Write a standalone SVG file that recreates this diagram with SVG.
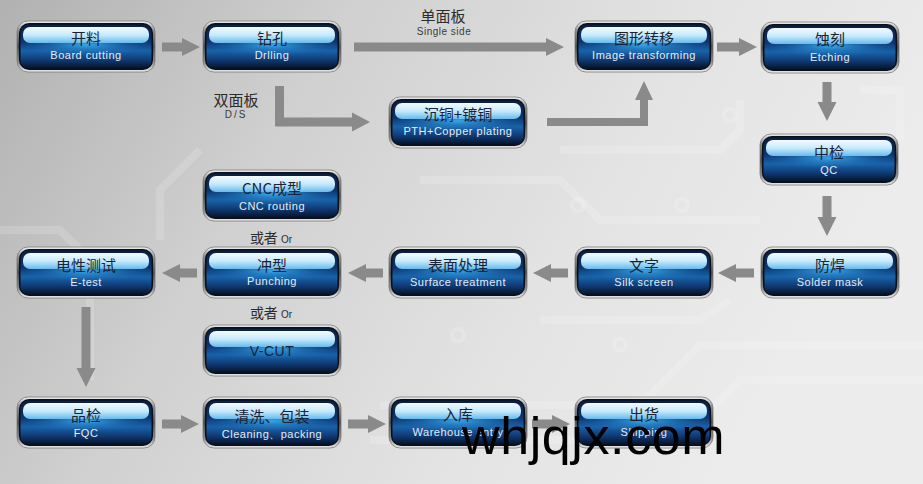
<svg xmlns="http://www.w3.org/2000/svg" width="923" height="484" viewBox="0 0 923 484">
<defs>
<linearGradient id="bg" x1="0" y1="0" x2="1" y2="0.3">
<stop offset="0" stop-color="#b1b1b1"/>
<stop offset="0.35" stop-color="#d0d0d0"/>
<stop offset="0.7" stop-color="#e3e3e3"/>
<stop offset="1" stop-color="#ececec"/>
</linearGradient>
<linearGradient id="silver" x1="0" y1="0" x2="0" y2="1">
<stop offset="0" stop-color="#f2f2f2"/>
<stop offset="0.2" stop-color="#8c8c8c"/>
<stop offset="0.5" stop-color="#4a4a4a"/>
<stop offset="0.8" stop-color="#8a8a8a"/>
<stop offset="1" stop-color="#eeeeee"/>
</linearGradient>
<linearGradient id="body" x1="0" y1="0" x2="0" y2="1">
<stop offset="0" stop-color="#0a1d40"/>
<stop offset="0.4" stop-color="#0f3670"/>
<stop offset="0.6" stop-color="#1863aa"/>
<stop offset="0.8" stop-color="#103b76"/>
<stop offset="1" stop-color="#05122a"/>
</linearGradient>
<radialGradient id="glow" cx="0.5" cy="0.62" r="0.5" fx="0.5" fy="0.62" gradientTransform="translate(0,0.31) scale(1,0.5) translate(0,-0.31)">
<stop offset="0" stop-color="#3cb2f7" stop-opacity="0.9"/>
<stop offset="1" stop-color="#1a6ab0" stop-opacity="0"/>
</radialGradient>
<linearGradient id="band" x1="0" y1="0" x2="0" y2="1">
<stop offset="0" stop-color="#f4fbff"/>
<stop offset="0.5" stop-color="#c8eafc"/>
<stop offset="1" stop-color="#66bbec"/>
</linearGradient>
<style>
.frame{fill:url(#silver);stroke:#7a7a7a;stroke-width:0.8}
.rim{fill:#0a0f1a}
.body{fill:url(#body)}
.glow{fill:url(#glow)}
.band{fill:url(#band)}
.t{font-family:"Noto Sans CJK SC","Liberation Sans",sans-serif;font-size:15px;fill:#1a2335;text-anchor:middle}
.s{font-family:"Liberation Sans","DejaVu Sans",sans-serif;font-size:11px;fill:#e4ecf4;text-anchor:middle;letter-spacing:0.5px}
.arr{fill:#8a8a8a}
.lab{font-family:"Noto Sans CJK SC","Liberation Sans",sans-serif;font-size:14px;fill:#2c2c2c;text-anchor:middle}
.labs{font-family:"Liberation Sans","DejaVu Sans",sans-serif;font-size:10px;fill:#3a3a3a;text-anchor:middle;letter-spacing:0.5px}
.trace{fill:none;stroke:#ffffff;stroke-opacity:0.16;stroke-width:8;stroke-linejoin:round}
.pad{fill:none;stroke:#ffffff;stroke-opacity:0.16;stroke-width:4}
</style>
</defs>

<rect width="923" height="484" fill="url(#bg)"/>
<g id="background-traces">
<polyline class="trace" points="0,230 60,230 90,260 90,380"/>
<polyline class="trace" points="380,405 640,405 700,345 923,345"/>
<polyline class="trace" points="370,440 680,440 740,380 923,380"/>
<polyline class="trace" points="560,150 720,150 740,130 740,100"/>
<polyline class="trace" points="420,180 560,180 600,220 760,220"/>
<polyline class="trace" points="540,320 700,320 730,300"/>
<polyline class="trace" points="860,90 900,90 900,140"/>
<polyline class="trace" points="200,150 160,190 160,240"/>
<circle class="pad" cx="578" cy="205" r="6"/>
<circle class="pad" cx="682" cy="205" r="6"/>
<circle class="pad" cx="458" cy="335" r="6"/>
<circle class="pad" cx="730" cy="115" r="6"/>
<circle class="pad" cx="620" cy="345" r="6"/>
</g>

<g id="connectors">
<polygon class="arr" points="162,42.5 182,42.5 182,38 200,47 182,56 182,51.5 162,51.5"/>
<polygon class="arr" points="354,42.5 546,42.5 546,38 564,47 546,56 546,51.5 354,51.5"/>
<polygon class="arr" points="717,42.5 739,42.5 739,38 757,47 739,56 739,51.5 717,51.5"/>
<polygon class="arr" points="275,86 284,86 284,117.5 352,117.5 352,112.5 370,122 352,131.5 352,126.5 275,126.5"/>
<polygon class="arr" points="547,118 640,118 640,100 635,100 644,81 653,100 648,100 648,126 547,126"/>
<polygon class="arr" points="822.5,82 831.5,82 831.5,102 836.5,102 827,121 817.5,102 822.5,102"/>
<polygon class="arr" points="822.5,196 831.5,196 831.5,217 836.5,217 827,236 817.5,217 822.5,217"/>
<polygon class="arr" points="754,268.5 736,268.5 736,264 718,273 736,282 736,277.5 754,277.5"/>
<polygon class="arr" points="568,268.5 551,268.5 551,264 533,273 551,282 551,277.5 568,277.5"/>
<polygon class="arr" points="383,268.5 366,268.5 366,264 348,273 366,282 366,277.5 383,277.5"/>
<polygon class="arr" points="197,268.5 180,268.5 180,264 162,273 180,282 180,277.5 197,277.5"/>
<polygon class="arr" points="81.5,307 90.5,307 90.5,368 95.5,368 86,387 76.5,368 81.5,368"/>
<polygon class="arr" points="162,419.5 181,419.5 181,415 199,424 181,433 181,428.5 162,428.5"/>
<polygon class="arr" points="348,419.5 368,419.5 368,415 386,424 368,433 368,428.5 348,428.5"/>
<polygon class="arr" points="532,419.5 552,419.5 552,415 570,424 552,433 552,428.5 532,428.5"/>
</g>

<g id="labels">
<text class="lab" x="443" y="22" style="font-size:15px">单面板</text>
<text class="labs" x="444" y="35">Single side</text>
<text class="lab" x="236" y="106" style="font-size:15px">双面板</text>
<text class="labs" x="236" y="118" style="letter-spacing:2px">D/S</text>
<text class="lab" x="271" y="243">或者 <tspan style="font-size:10px;font-family:'Liberation Sans',sans-serif">Or</tspan></text>
<text class="lab" x="271" y="318">或者 <tspan style="font-size:10px;font-family:'Liberation Sans',sans-serif">Or</tspan></text>
</g>

<g id="n-kailiao" transform="translate(17,21)">
<rect class="frame" width="138" height="51" rx="11"/><rect class="rim" x="2" y="2" width="134" height="47" rx="10"/><rect class="body" x="3.5" y="3.5" width="131" height="44" rx="8"/><rect class="glow" x="3.5" y="3.5" width="131" height="44" rx="8"/><rect class="band" x="6" y="6" width="126" height="16" rx="7"/>
<text class="t" x="69" y="23">开料</text><text class="s" x="69" y="38">Board cutting</text>
</g>
<g id="n-zuankong" transform="translate(203,21)">
<rect class="frame" width="138" height="51" rx="11"/><rect class="rim" x="2" y="2" width="134" height="47" rx="10"/><rect class="body" x="3.5" y="3.5" width="131" height="44" rx="8"/><rect class="glow" x="3.5" y="3.5" width="131" height="44" rx="8"/><rect class="band" x="6" y="6" width="126" height="16" rx="7"/>
<text class="t" x="69" y="23">钻孔</text><text class="s" x="69" y="38">Drlling</text>
</g>
<g id="n-tuxing" transform="translate(575,21)">
<rect class="frame" width="138" height="51" rx="11"/><rect class="rim" x="2" y="2" width="134" height="47" rx="10"/><rect class="body" x="3.5" y="3.5" width="131" height="44" rx="8"/><rect class="glow" x="3.5" y="3.5" width="131" height="44" rx="8"/><rect class="band" x="6" y="6" width="126" height="16" rx="7"/>
<text class="t" x="69" y="23">图形转移</text><text class="s" x="69" y="38">Image transforming</text>
</g>
<g id="n-shike" transform="translate(761,22)">
<rect class="frame" width="138" height="51" rx="11"/><rect class="rim" x="2" y="2" width="134" height="47" rx="10"/><rect class="body" x="3.5" y="3.5" width="131" height="44" rx="8"/><rect class="glow" x="3.5" y="3.5" width="131" height="44" rx="8"/><rect class="band" x="6" y="6" width="126" height="16" rx="7"/>
<text class="t" x="69" y="23">蚀刻</text><text class="s" x="69" y="39">Etching</text>
</g>
<g id="n-chentong" transform="translate(389,97)">
<rect class="frame" width="138" height="51" rx="11"/><rect class="rim" x="2" y="2" width="134" height="47" rx="10"/><rect class="body" x="3.5" y="3.5" width="131" height="44" rx="8"/><rect class="glow" x="3.5" y="3.5" width="131" height="44" rx="8"/><rect class="band" x="6" y="6" width="126" height="16" rx="7"/>
<text class="t" x="69" y="23">沉铜+镀铜</text><text class="s" x="69" y="38">PTH+Copper plating</text>
</g>
<g id="n-zhongjian" transform="translate(760,134)">
<rect class="frame" width="138" height="51" rx="11"/><rect class="rim" x="2" y="2" width="134" height="47" rx="10"/><rect class="body" x="3.5" y="3.5" width="131" height="44" rx="8"/><rect class="glow" x="3.5" y="3.5" width="131" height="44" rx="8"/><rect class="band" x="6" y="6" width="126" height="16" rx="7"/>
<text class="t" x="69" y="24">中检</text><text class="s" x="69" y="40">QC</text>
</g>
<g id="n-cnc" transform="translate(203,170)">
<rect class="frame" width="138" height="51" rx="11"/><rect class="rim" x="2" y="2" width="134" height="47" rx="10"/><rect class="body" x="3.5" y="3.5" width="131" height="44" rx="8"/><rect class="glow" x="3.5" y="3.5" width="131" height="44" rx="8"/><rect class="band" x="6" y="6" width="126" height="16" rx="7"/>
<text class="t" x="69" y="24">CNC成型</text><text class="s" x="69" y="40">CNC routing</text>
</g>
<g id="n-dianxing" transform="translate(17,247)">
<rect class="frame" width="138" height="51" rx="11"/><rect class="rim" x="2" y="2" width="134" height="47" rx="10"/><rect class="body" x="3.5" y="3.5" width="131" height="44" rx="8"/><rect class="glow" x="3.5" y="3.5" width="131" height="44" rx="8"/><rect class="band" x="6" y="6" width="126" height="16" rx="7"/>
<text class="t" x="69" y="24">电性测试</text><text class="s" x="69" y="39">E-test</text>
</g>
<g id="n-chongxing" transform="translate(203,247)">
<rect class="frame" width="138" height="51" rx="11"/><rect class="rim" x="2" y="2" width="134" height="47" rx="10"/><rect class="body" x="3.5" y="3.5" width="131" height="44" rx="8"/><rect class="glow" x="3.5" y="3.5" width="131" height="44" rx="8"/><rect class="band" x="6" y="6" width="126" height="16" rx="7"/>
<text class="t" x="69" y="24">冲型</text><text class="s" x="69" y="38">Punching</text>
</g>
<g id="n-biaomian" transform="translate(389,247)">
<rect class="frame" width="138" height="51" rx="11"/><rect class="rim" x="2" y="2" width="134" height="47" rx="10"/><rect class="body" x="3.5" y="3.5" width="131" height="44" rx="8"/><rect class="glow" x="3.5" y="3.5" width="131" height="44" rx="8"/><rect class="band" x="6" y="6" width="126" height="16" rx="7"/>
<text class="t" x="69" y="24">表面处理</text><text class="s" x="69" y="39">Surface treatment</text>
</g>
<g id="n-wenzi" transform="translate(575,247)">
<rect class="frame" width="138" height="51" rx="11"/><rect class="rim" x="2" y="2" width="134" height="47" rx="10"/><rect class="body" x="3.5" y="3.5" width="131" height="44" rx="8"/><rect class="glow" x="3.5" y="3.5" width="131" height="44" rx="8"/><rect class="band" x="6" y="6" width="126" height="16" rx="7"/>
<text class="t" x="69" y="24">文字</text><text class="s" x="69" y="39">Silk screen</text>
</g>
<g id="n-fanghan" transform="translate(761,247)">
<rect class="frame" width="138" height="51" rx="11"/><rect class="rim" x="2" y="2" width="134" height="47" rx="10"/><rect class="body" x="3.5" y="3.5" width="131" height="44" rx="8"/><rect class="glow" x="3.5" y="3.5" width="131" height="44" rx="8"/><rect class="band" x="6" y="6" width="126" height="16" rx="7"/>
<text class="t" x="69" y="24">防焊</text><text class="s" x="69" y="39">Solder mask</text>
</g>
<g id="n-vcut" transform="translate(203,325)">
<rect class="frame" width="138" height="51" rx="11"/><rect class="rim" x="2" y="2" width="134" height="47" rx="10"/><rect class="body" x="3.5" y="3.5" width="131" height="44" rx="8"/><rect class="glow" x="3.5" y="3.5" width="131" height="44" rx="8"/><rect class="band" x="6" y="6" width="126" height="16" rx="7"/>
<text class="t" x="69" y="31" style="font-family:'Liberation Sans',sans-serif;font-size:14px;letter-spacing:0.5px">V-CUT</text>
</g>
<g id="n-pinjian" transform="translate(17,397)">
<rect class="frame" width="138" height="51" rx="11"/><rect class="rim" x="2" y="2" width="134" height="47" rx="10"/><rect class="body" x="3.5" y="3.5" width="131" height="44" rx="8"/><rect class="glow" x="3.5" y="3.5" width="131" height="44" rx="8"/><rect class="band" x="6" y="6" width="126" height="16" rx="7"/>
<text class="t" x="69" y="24">品检</text><text class="s" x="69" y="40">FQC</text>
</g>
<g id="n-qingxi" transform="translate(203,397)">
<rect class="frame" width="138" height="51" rx="11"/><rect class="rim" x="2" y="2" width="134" height="47" rx="10"/><rect class="body" x="3.5" y="3.5" width="131" height="44" rx="8"/><rect class="glow" x="3.5" y="3.5" width="131" height="44" rx="8"/><rect class="band" x="6" y="6" width="126" height="16" rx="7"/>
<text class="t" x="69" y="25">清洗、包装</text><text class="s" x="69" y="41">Cleaning、packing</text>
</g>
<g id="n-ruku" transform="translate(389,397)">
<rect class="frame" width="138" height="51" rx="11"/><rect class="rim" x="2" y="2" width="134" height="47" rx="10"/><rect class="body" x="3.5" y="3.5" width="131" height="44" rx="8"/><rect class="glow" x="3.5" y="3.5" width="131" height="44" rx="8"/><rect class="band" x="6" y="6" width="126" height="16" rx="7"/>
<text class="t" x="69" y="23">入库</text><text class="s" x="69" y="39">Warehouse entry</text>
</g>
<g id="n-chuhuo" transform="translate(575,397)">
<rect class="frame" width="138" height="51" rx="11"/><rect class="rim" x="2" y="2" width="134" height="47" rx="10"/><rect class="body" x="3.5" y="3.5" width="131" height="44" rx="8"/><rect class="glow" x="3.5" y="3.5" width="131" height="44" rx="8"/><rect class="band" x="6" y="6" width="126" height="16" rx="7"/>
<text class="t" x="69" y="23">出货</text><text class="s" x="69" y="39">Shipping</text>
</g>

<text id="watermark" x="462" y="454" style="font-family:'Liberation Sans','DejaVu Sans',sans-serif;font-size:52px;letter-spacing:0.6px;fill:#000000">whjqjx.com</text>
</svg>
